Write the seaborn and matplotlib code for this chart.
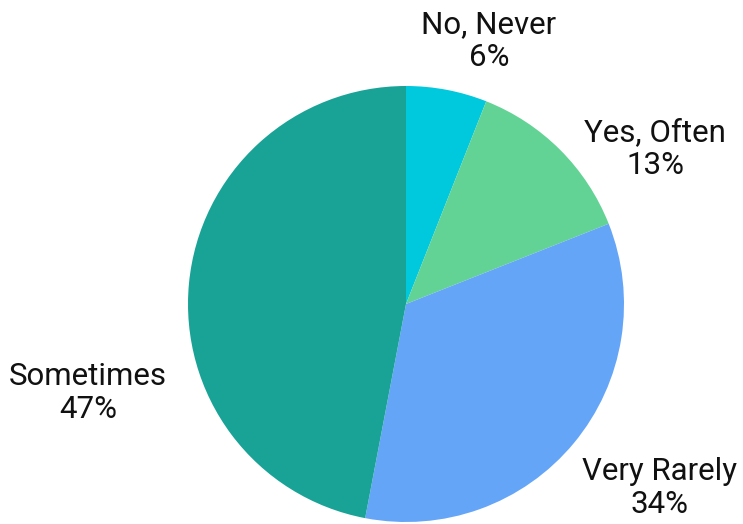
import matplotlib
matplotlib.use("Agg")
import matplotlib.pyplot as plt
import seaborn as sns

# Survey answers, clockwise from 12 o'clock
categories = ["No, Never", "Yes, Often", "Very Rarely", "Sometimes"]
shares = [6, 13, 34, 47]
colors = ["#00C8DD", "#62D394", "#64A5F8", "#18A396"]

sns.set_theme(style="white")
plt.rcParams["font.family"] = ["Roboto", "DejaVu Sans"]

W, H = 743, 524
fig = plt.figure(figsize=(W / 100, H / 100), dpi=100)
ax = fig.add_axes([0, 0, 1, 1])

cx, cy, r = 406, H - 304, 218
wedges, _ = ax.pie(
    shares,
    colors=colors,
    startangle=90,
    counterclock=False,
    center=(cx, cy),
    radius=r,
    wedgeprops=dict(linewidth=0),
    frame=True,
)
ax.set_xlim(0, W)
ax.set_ylim(0, H)
ax.set_aspect("equal")
ax.axis("off")

# label block centres (pixel coordinates, y measured from the top),
# in the same order as the categories
label_pos = [(489, 41), (655, 149), (660, 488), (88, 393)]
for name, val, (px, py) in zip(categories, shares, label_pos):
    ax.text(px, H - py, f"{name}\n{val}%", ha="center", va="center",
            fontsize=22.5, color="#111111", linespacing=1.2)

fig.savefig("out.png", dpi=100)
